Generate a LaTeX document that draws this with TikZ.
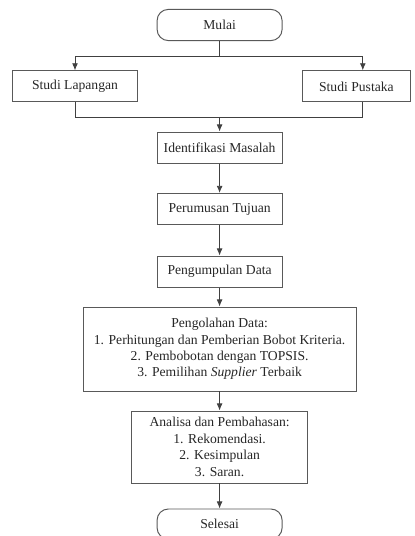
\documentclass[tikz,border=0pt]{standalone}
\usepackage{fontspec}
\setmainfont{Liberation Serif}
\usetikzlibrary{arrows.meta,positioning}

\begin{document}
\begin{tikzpicture}
[->,>={Latex[length=5pt,width=4.2pt]},line width=0.6pt,draw=black!75,
  proses/.style={rectangle,draw=black!65,line width=0.7pt,minimum width=3.125cm,minimum height=0.78cm,inner sep=2pt,align=center,font=\fontsize{9.7}{11.7}\selectfont,text=black!85},
  terminal/.style={proses,rounded corners=0.28cm}]

  \useasboundingbox (0,0) rectangle (10.35,13.4);

  \node[terminal] (mulai) at 		(5.49,12.775) 	{Mulai};

  \node[proses] (lapangan) at 		(1.875,11.24) 	{Studi Lapangan};
  \node[proses,minimum width=2.72cm] (pustaka) at 	(8.91,11.24) 	{Studi Pustaka};

  \node[proses] (identifikasi) at 	(5.49,9.71) 	{Identifikasi Masalah};
  \node[proses] (perumusan) at 		(5.49,8.175) 	{Perumusan Tujuan};
  \node[proses] (pengumpulan) at 	(5.49,6.61) 	{Pengumpulan Data};
  \node[proses,minimum width=6.825cm,minimum height=2.1cm] (pengolahan) at 	(5.49,4.675) 	{Pengolahan Data:\\1. Perhitungan dan Pemberian Bobot Kriteria.\\2. Pembobotan dengan TOPSIS.\\3. Pemilihan \textit{Supplier} Terbaik};
  \node[proses,minimum width=4.4cm,minimum height=1.8cm] (analisa) at 	(5.49,2.225) 	{Analisa dan Pembahasan:\\1. Rekomendasi.\\2. Kesimpulan\\3. Saran.};
  \node[terminal,minimum height=0.75cm] (selesai) at 	(5.49,0.3) 	{Selesai};

  \coordinate (cabang) at (5.49,12.0);
  \coordinate (gabung) at (5.49,10.475);

  \draw[-] (mulai) -- (cabang);
  \draw (cabang) -| (lapangan);
  \draw (cabang) -| ([xshift=0.16cm]pustaka.north);
  \draw[-] (lapangan) |- (gabung);
  \draw[-] ([xshift=0.16cm]pustaka.south) |- (gabung);
  \draw (gabung) -- (identifikasi);

   \foreach \from/\to in {identifikasi/perumusan,perumusan/pengumpulan,pengumpulan/pengolahan,pengolahan/analisa,analisa/selesai}
     \draw (\from) -- (\to);

\end{tikzpicture}
\end{document}
